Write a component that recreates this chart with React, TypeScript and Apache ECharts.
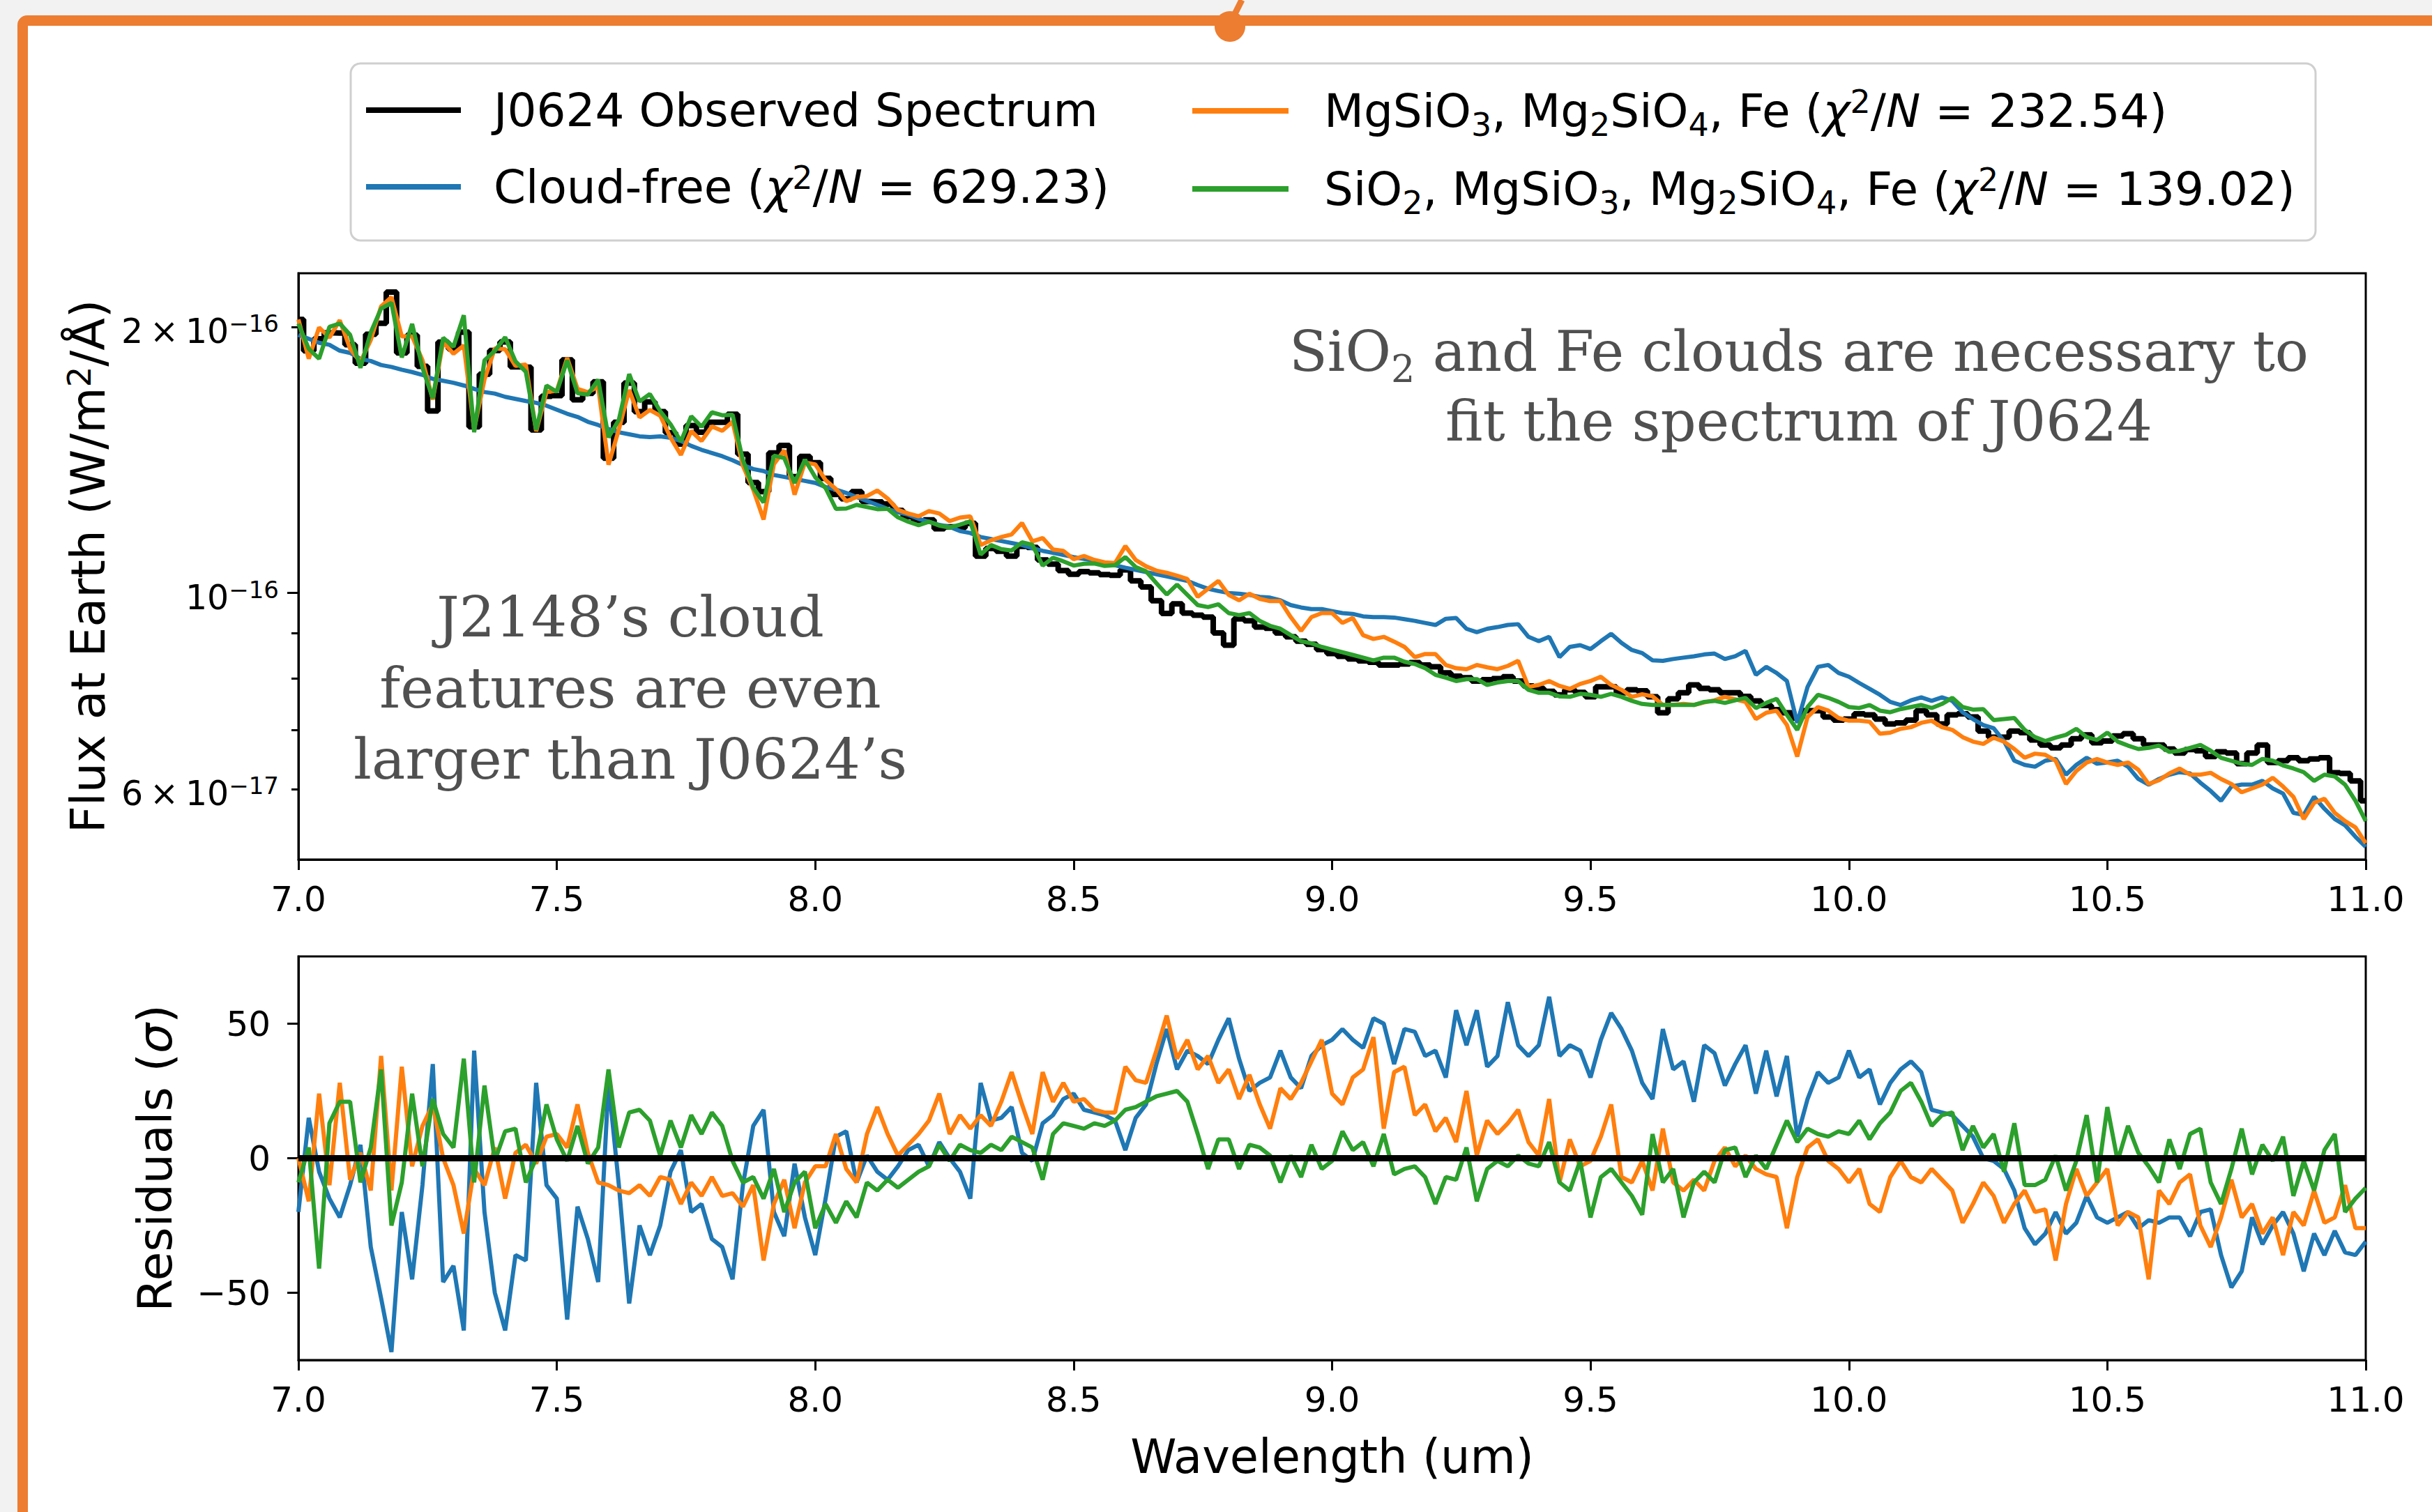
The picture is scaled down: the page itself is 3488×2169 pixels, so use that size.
import React, { useEffect, useRef } from "react";
import * as echarts from "echarts";

// ---------- data (flux in units of 1e-16 W/m^2/Å) ----------
const WAVE: number[] = Array.from({ length: 201 }, (_, i) => Math.round((7 + i * 0.02) * 100) / 100);

const OBS = [
  2.039, 1.879, 1.939, 1.969, 1.968, 1.909, 1.820, 1.962, 2.019, 2.190,
  1.869, 1.958, 1.805, 1.607, 1.922, 1.889, 1.973, 1.542, 1.768, 1.881,
  1.923, 1.802, 1.801, 1.529, 1.669, 1.672, 1.835, 1.654, 1.682, 1.733,
  1.421, 1.560, 1.728, 1.604, 1.645, 1.604, 1.518, 1.474, 1.547, 1.520,
  1.560, 1.560, 1.593, 1.436, 1.333, 1.302, 1.440, 1.469, 1.354, 1.427,
  1.404, 1.348, 1.293, 1.278, 1.302, 1.269, 1.268, 1.261, 1.240, 1.220,
  1.203, 1.210, 1.182, 1.188, 1.185, 1.199, 1.101, 1.123, 1.115, 1.101,
  1.129, 1.126, 1.090, 1.078, 1.060, 1.050, 1.057, 1.054, 1.049, 1.047,
  1.062, 1.032, 1.016, 0.980, 0.948, 0.972, 0.949, 0.944, 0.939, 0.901,
  0.873, 0.935, 0.930, 0.915, 0.912, 0.901, 0.892, 0.882, 0.875, 0.863,
  0.854, 0.848, 0.842, 0.838, 0.835, 0.829, 0.829, 0.831, 0.834, 0.829,
  0.825, 0.812, 0.805, 0.802, 0.795, 0.798, 0.800, 0.804, 0.795, 0.785,
  0.780, 0.774, 0.767, 0.777, 0.772, 0.763, 0.783, 0.783, 0.771, 0.777,
  0.775, 0.763, 0.732, 0.759, 0.771, 0.787, 0.780, 0.777, 0.771, 0.771,
  0.764, 0.755, 0.746, 0.738, 0.732, 0.722, 0.736, 0.736, 0.724, 0.718,
  0.720, 0.730, 0.728, 0.720, 0.711, 0.713, 0.718, 0.736, 0.728, 0.711,
  0.728, 0.730, 0.724, 0.698, 0.687, 0.687, 0.698, 0.695, 0.682, 0.673,
  0.668, 0.673, 0.684, 0.691, 0.677, 0.680, 0.689, 0.693, 0.684, 0.673,
  0.673, 0.666, 0.659, 0.665, 0.663, 0.653, 0.661, 0.659, 0.641, 0.659,
  0.673, 0.643, 0.646, 0.651, 0.646, 0.649, 0.651, 0.626, 0.625, 0.613,
  0.582,
];

const CLOUD_FREE = [
  1.959, 1.939, 1.919, 1.909, 1.880, 1.869, 1.840, 1.830, 1.811, 1.802,
  1.789, 1.778, 1.765, 1.747, 1.738, 1.729, 1.717, 1.702, 1.688, 1.681,
  1.667, 1.658, 1.649, 1.641, 1.629, 1.612, 1.595, 1.582, 1.562, 1.549,
  1.533, 1.520, 1.512, 1.504, 1.501, 1.504, 1.498, 1.486, 1.467, 1.452,
  1.440, 1.428, 1.413, 1.396, 1.381, 1.374, 1.360, 1.353, 1.346, 1.339,
  1.332, 1.318, 1.309, 1.298, 1.284, 1.271, 1.258, 1.245, 1.234, 1.226,
  1.213, 1.204, 1.194, 1.188, 1.175, 1.169, 1.157, 1.151, 1.145, 1.139,
  1.133, 1.124, 1.116, 1.110, 1.104, 1.098, 1.093, 1.088, 1.081, 1.075,
  1.068, 1.062, 1.056, 1.050, 1.044, 1.038, 1.032, 1.021, 1.011, 1.005,
  1.000, 0.998, 0.995, 0.990, 0.988, 0.981, 0.969, 0.963, 0.959, 0.959,
  0.954, 0.949, 0.947, 0.941, 0.939, 0.939, 0.938, 0.934, 0.930, 0.925,
  0.920, 0.935, 0.937, 0.911, 0.903, 0.911, 0.915, 0.920, 0.922, 0.892,
  0.882, 0.892, 0.846, 0.869, 0.873, 0.864, 0.882, 0.899, 0.878, 0.862,
  0.855, 0.839, 0.838, 0.842, 0.845, 0.848, 0.852, 0.854, 0.842, 0.848,
  0.860, 0.808, 0.825, 0.812, 0.795, 0.713, 0.783, 0.825, 0.829, 0.812,
  0.804, 0.791, 0.779, 0.767, 0.753, 0.747, 0.756, 0.762, 0.755, 0.762,
  0.755, 0.733, 0.720, 0.709, 0.703, 0.680, 0.646, 0.639, 0.636, 0.646,
  0.649, 0.623, 0.639, 0.651, 0.641, 0.643, 0.646, 0.636, 0.616, 0.607,
  0.616, 0.623, 0.627, 0.625, 0.610, 0.597, 0.582, 0.604, 0.607, 0.607,
  0.613, 0.601, 0.593, 0.564, 0.561, 0.588, 0.570, 0.555, 0.546, 0.530,
  0.516,
];

const MG_FE = [
  2.039, 1.841, 1.997, 1.945, 2.035, 1.890, 1.825, 1.933, 2.110, 2.161,
  1.951, 1.951, 1.834, 1.655, 1.922, 1.865, 1.906, 1.532, 1.744, 1.891,
  1.887, 1.807, 1.813, 1.524, 1.688, 1.694, 1.845, 1.702, 1.687, 1.711,
  1.397, 1.531, 1.697, 1.580, 1.611, 1.587, 1.499, 1.433, 1.525, 1.486,
  1.543, 1.526, 1.562, 1.393, 1.309, 1.211, 1.399, 1.450, 1.292, 1.405,
  1.398, 1.342, 1.311, 1.270, 1.284, 1.287, 1.306, 1.279, 1.242, 1.230,
  1.221, 1.238, 1.230, 1.206, 1.217, 1.221, 1.133, 1.147, 1.157, 1.165,
  1.200, 1.144, 1.154, 1.120, 1.116, 1.092, 1.101, 1.090, 1.083, 1.081,
  1.130, 1.090, 1.072, 1.060, 1.054, 1.046, 1.037, 0.990, 1.011, 1.032,
  0.995, 0.981, 0.998, 0.985, 0.979, 0.979, 0.939, 0.906, 0.939, 0.949,
  0.949, 0.925, 0.937, 0.896, 0.887, 0.892, 0.881, 0.869, 0.846, 0.853,
  0.853, 0.829, 0.822, 0.820, 0.829, 0.824, 0.820, 0.827, 0.838, 0.783,
  0.787, 0.795, 0.785, 0.779, 0.789, 0.795, 0.804, 0.787, 0.777, 0.763,
  0.768, 0.764, 0.747, 0.747, 0.749, 0.747, 0.752, 0.756, 0.763, 0.758,
  0.753, 0.720, 0.732, 0.736, 0.709, 0.653, 0.724, 0.743, 0.736, 0.722,
  0.717, 0.717, 0.715, 0.693, 0.695, 0.702, 0.705, 0.713, 0.717, 0.705,
  0.700, 0.687, 0.679, 0.675, 0.686, 0.679, 0.666, 0.651, 0.658, 0.656,
  0.646, 0.608, 0.629, 0.643, 0.649, 0.643, 0.639, 0.643, 0.631, 0.608,
  0.614, 0.625, 0.633, 0.623, 0.623, 0.626, 0.616, 0.608, 0.595, 0.601,
  0.607, 0.618, 0.604, 0.588, 0.555, 0.579, 0.585, 0.564, 0.552, 0.543,
  0.521,
];

const SI_MG_FE = [
  2.017, 1.889, 1.841, 2.000, 2.018, 1.959, 1.798, 1.972, 2.098, 2.130,
  1.847, 2.016, 1.798, 1.660, 1.944, 1.899, 2.062, 1.520, 1.833, 1.879,
  1.947, 1.828, 1.779, 1.529, 1.717, 1.689, 1.833, 1.683, 1.677, 1.743,
  1.500, 1.570, 1.769, 1.647, 1.679, 1.606, 1.552, 1.484, 1.585, 1.542,
  1.601, 1.589, 1.591, 1.414, 1.316, 1.266, 1.430, 1.421, 1.332, 1.415,
  1.352, 1.314, 1.245, 1.246, 1.258, 1.251, 1.244, 1.245, 1.218, 1.204,
  1.193, 1.204, 1.192, 1.186, 1.195, 1.205, 1.105, 1.133, 1.121, 1.117,
  1.141, 1.134, 1.074, 1.096, 1.086, 1.074, 1.079, 1.080, 1.073, 1.075,
  1.098, 1.070, 1.058, 1.026, 0.996, 1.022, 0.995, 0.969, 0.964, 0.971,
  0.949, 0.944, 0.949, 0.930, 0.918, 0.911, 0.896, 0.882, 0.877, 0.869,
  0.863, 0.857, 0.851, 0.845, 0.839, 0.845, 0.845, 0.836, 0.831, 0.822,
  0.808, 0.802, 0.795, 0.799, 0.799, 0.787, 0.792, 0.795, 0.795, 0.777,
  0.771, 0.771, 0.764, 0.763, 0.769, 0.767, 0.763, 0.769, 0.763, 0.755,
  0.749, 0.747, 0.747, 0.747, 0.747, 0.747, 0.753, 0.755, 0.751, 0.756,
  0.761, 0.741, 0.751, 0.759, 0.728, 0.700, 0.743, 0.767, 0.761, 0.753,
  0.743, 0.741, 0.747, 0.736, 0.733, 0.739, 0.743, 0.747, 0.741, 0.749,
  0.761, 0.743, 0.738, 0.739, 0.718, 0.720, 0.722, 0.700, 0.687, 0.680,
  0.686, 0.691, 0.702, 0.687, 0.682, 0.695, 0.679, 0.672, 0.666, 0.668,
  0.672, 0.661, 0.663, 0.668, 0.673, 0.663, 0.651, 0.646, 0.641, 0.639,
  0.649, 0.646, 0.638, 0.633, 0.627, 0.613, 0.623, 0.620, 0.607, 0.582,
  0.552,
];

// residuals (sigma)
const RES_CLOUD_FREE = [
  -20, 15, -5, -15, -22, -10, 5, -33, -52, -72,
  -20, -45, -10, 35, -46, -40, -64, 40, -20, -50,
  -64, -36, -38, 28, -10, -15, -60, -18, -30, -46,
  28, -10, -54, -25, -36, -25, -5, 3, -20, -17,
  -30, -33, -45, -10, 12, 18, -20, -29, -2, -22,
  -36, -15, 8, 10, -9, 1, -5, -8, -3, 3,
  5, -3, 6, 0, -5, -15, 28, 14, 15, 19,
  2, -1, 13, 16, 22, 24, 18, 17, 16, 14,
  3, 15, 20, 35, 48, 33, 40, 38, 35, 44,
  52, 37, 25, 28, 30, 40, 30, 26, 38, 42,
  44, 48, 44, 41, 52, 50, 35, 48, 47, 38,
  40, 30, 55, 42, 55, 34, 38, 58, 42, 38,
  42, 60, 38, 42, 40, 30, 44, 54, 48, 40,
  28, 22, 48, 33, 36, 21, 42, 39, 27, 35,
  42, 24, 40, 23, 38, 8, 22, 32, 28, 30,
  40, 30, 33, 20, 28, 33, 36, 32, 18, 17,
  16, 12, 8, 0, -1, -4, -12, -26, -32, -28,
  -20, -28, -24, -14, -22, -24, -22, -20, -26, -23,
  -24, -22, -22, -29, -20, -19, -36, -48, -42, -22,
  -32, -25, -20, -28, -42, -28, -36, -27, -35, -36,
  -31,
];

const RES_MG_FE = [
  0, -16, 24, -10, 28, -8, 2, -12, 38, -12,
  34, -3, 12, 20, 0, -10, -28, -4, -10, 4,
  -15, 2, 5, -2, 8, 9, 4, 20, 2, -9,
  -10, -12, -13, -10, -14, -7, -8, -17, -9, -14,
  -7, -14, -13, -18, -10, -38, -17, -8, -26, -9,
  -3, -3, 9, -4, -9, 9, 19, 9, 1, 5,
  9, 14, 24, 9, 16, 11, 16, 12, 21, 32,
  20, 9, 32, 21, 28, 21, 22, 18, 17, 17,
  34, 29, 28, 40, 53, 37, 44, 33, 38, 28,
  33, 22, 31, 20, 11, 26, 22, 28, 36, 44,
  24, 20, 30, 33, 45, 11, 32, 34, 16, 20,
  10, 15, 6, 25, 1, 14, 9, 13, 18, 6,
  1, 22, -9, 7, -3, -1, 8, 20, -7, -9,
  -1, -12, 11, -9, -12, -8, -12, -1, 4, -3,
  1, -4, -6, -7, -26, -7, 4, 7, -1, -4,
  -9, -4, -17, -20, -7, -1, -7, -9, -4, -8,
  -12, -24, -17, -9, -14, -24, -17, -12, -20, -19,
  -38, -17, -4, -14, -9, -4, -25, -20, -22, -45,
  -12, -17, -9, -6, -25, -33, -22, -8, -22, -17,
  -28, -22, -36, -20, -25, -12, -24, -22, -10, -26,
  -26,
];

const RES_SI_MG_FE = [
  -9, 4, -41, 13, 21, 21, -9, 4, 33, -25,
  -9, 24, -3, 22, 9, 4, 37, -9, 27, -1,
  10, 11, -9, 0, 20, 7, -1, 12, -2, 4,
  33, 4, 17, 18, 14, 1, 14, 4, 16, 9,
  17, 12, -1, -9, -7, -15, -4, -20, -9, -5,
  -26, -17, -24, -16, -22, -9, -12, -8, -11, -8,
  -5, -3, 5, -1, 5, 3, 2, 5, 3, 8,
  6, 4, -8, 9, 13, 12, 11, 13, 12, 14,
  18, 19, 21, 23, 24, 25, 21, 9, -4, 7,
  7, -4, 5, 4, 1, -9, 1, -7, 5, -4,
  -1, 10, 3, 6, -3, 9, -6, -4, -3, -7,
  -17, -7, -8, 4, -16, -4, -1, -3, 1, -2,
  -3, 6, -9, -12, -1, -22, -7, -4, -9, -14,
  -21, 9, -9, -4, -22, -9, -5, -9, 3, 4,
  -7, 1, -4, 5, 14, 6, 11, 9, 8, 10,
  9, 14, 7, 13, 17, 25, 28, 21, 12, 16,
  17, 3, 12, 4, 9, -5, 13, -10, -10, -8,
  1, -12, -1, 16, -9, 19, -1, 12, 2, -3,
  -9, 7, -4, 9, 11, -9, -17, -4, 11, -6,
  5, -1, 8, -14, -1, -12, 3, 9, -20, -15,
  -11,
];

// axis ticks / labels
const X_MIN = 7;
const X_MAX = 11;
const X_STEP = 0.5;
const FLUX_MIN = 0.4994;
const FLUX_MAX = 2.3;
const Y_TICK_LABELS = [
  { value: 0.6, base: "6\u2009×\u200910", exp: "−17" },
  { value: 1, base: "10", exp: "−16" },
  { value: 2, base: "2\u2009×\u200910", exp: "−16" },
];
const Y_MAJOR = [1];
const Y_MINOR = [0.6, 0.7, 0.8, 0.9, 2];
const RES_MIN = -75;
const RES_MAX = 75;
const RES_TICKS = [-50, 0, 50];

const NAME_OBS = "J0624 Observed Spectrum";
const NAME_CF = "Cloud-free (χ²/N = 629.23)";
const NAME_MG = "MgSiO₃, Mg₂SiO₄, Fe (χ²/N = 232.54)";
const NAME_SI = "SiO₂, MgSiO₃, Mg₂SiO₄, Fe (χ²/N = 139.02)";
const LEGEND_RICH: Record<string, string> = {
  [NAME_OBS]: "{t|J0624 Observed Spectrum}",
  [NAME_CF]: "{t|Cloud-free (}{i|χ}{sup|2}{t|/}{i|N}{t| = 629.23)}",
  [NAME_MG]: "{t|MgSiO}{sub|3}{t|, Mg}{sub|2}{t|SiO}{sub|4}{t|, Fe (}{i|χ}{sup|2}{t|/}{i|N}{t| = 232.54)}",
  [NAME_SI]: "{t|SiO}{sub|2}{t|, MgSiO}{sub|3}{t|, Mg}{sub|2}{t|SiO}{sub|4}{t|, Fe (}{i|χ}{sup|2}{t|/}{i|N}{t| = 139.02)}",
};

const C_BLUE = "#1f77b4";
const C_ORANGE = "#ff7f0e";
const C_GREEN = "#2ca02c";
const SANS = "DejaVu Sans";
const SERIF = "DejaVu Serif";

export default function App() {
  const ref = useRef<HTMLDivElement>(null);

  useEffect(() => {
    if (!ref.current) return;
    const chart = echarts.init(ref.current, undefined, { renderer: "svg" });
    const pairs = (arr: number[]) => WAVE.map((w, i) => [w, arr[i]]);

    const legendRich = {
      t: { fontSize: 66, fontFamily: SANS, color: "#000", lineHeight: 80 },
      i: { fontSize: 66, fontFamily: SANS, fontStyle: "italic", color: "#000", lineHeight: 80 },
      sup: { fontSize: 46, fontFamily: SANS, color: "#000", lineHeight: 40, padding: [0, 0, 26, 0] },
      sub: { fontSize: 46, fontFamily: SANS, color: "#000", lineHeight: 40, padding: [40, 0, 0, 0] },
    };
    const nameRich = {
      a: { fontSize: 68, fontFamily: SANS, color: "#000", lineHeight: 80 },
      i: { fontSize: 68, fontFamily: SANS, fontStyle: "italic", color: "#000", lineHeight: 80 },
      s: { fontSize: 47, fontFamily: SANS, color: "#000", lineHeight: 40, padding: [0, 0, 26, 0] },
    };

    const xAxisBase = (gridIndex: number) => ({
      type: "value",
      gridIndex,
      min: X_MIN,
      max: X_MAX,
      interval: X_STEP,
      axisLine: { show: true, onZero: false, lineStyle: { color: "#000", width: 3 } },
      axisTick: { show: true, length: 15, lineStyle: { color: "#000", width: 3 } },
      axisLabel: {
        show: true,
        margin: 32,
        fontSize: 50,
        fontFamily: SANS,
        color: "#000",
        showMinLabel: true,
        showMaxLabel: true,
        formatter: (v: number) => v.toFixed(1),
      },
      splitLine: { show: false },
    });

    const lmin = Math.log10(FLUX_MIN);
    const lmax = Math.log10(FLUX_MAX);

    const option: any = {
      animation: false,
      textStyle: { fontFamily: SANS },
      grid: [
        { left: 428, top: 392, width: 2965, height: 841, show: true, borderColor: "#000", borderWidth: 3, backgroundColor: "rgba(0,0,0,0)" },
        { left: 428, top: 1372, width: 2965, height: 579, show: true, borderColor: "#000", borderWidth: 3, backgroundColor: "rgba(0,0,0,0)" },
      ],
      xAxis: [
        xAxisBase(0),
        {
          ...xAxisBase(1),
          name: "Wavelength (um)",
          nameLocation: "middle",
          nameGap: 99,
          nameTextStyle: { fontSize: 67, fontFamily: SANS, color: "#000", lineHeight: 80 },
        },
      ],
      yAxis: [
        {
          type: "log",
          logBase: 10,
          gridIndex: 0,
          min: FLUX_MIN,
          max: FLUX_MAX,
          position: "left",
          axisLine: { show: false },
          axisTick: { show: false },
          axisLabel: { show: false },
          splitLine: { show: false },
        },
        {
          type: "value",
          gridIndex: 0,
          min: lmin,
          max: lmax,
          position: "left",
          axisLine: { show: true, onZero: false, lineStyle: { color: "#000", width: 3 } },
          axisTick: { show: true, length: 16, lineStyle: { color: "#000", width: 3 }, customValues: Y_MAJOR.map((v) => Math.log10(v)) },
          axisLabel: {
            show: true,
            margin: 28,
            customValues: Y_TICK_LABELS.map((t) => Math.log10(t.value)),
            formatter: (v: number) => {
              const t = Y_TICK_LABELS.find((o) => Math.abs(Math.log10(o.value) - v) < 1e-6);
              return t ? `{b|${t.base}}{s|${t.exp}}` : "";
            },
            rich: {
              b: { fontSize: 49, fontFamily: SANS, color: "#000", lineHeight: 60, padding: [14, 0, 0, 0] },
              s: { fontSize: 34, fontFamily: SANS, color: "#000", lineHeight: 30, padding: [0, 0, 10, 0] },
            },
          },
          splitLine: { show: false },
          name: "{a|Flux at Earth (W/m}{s|2}{a|/Å)}",
          nameLocation: "middle",
          nameRotate: 90,
          nameGap: 234,
          nameTextStyle: { fontSize: 68, fontFamily: SANS, color: "#000", rich: nameRich },
        },
        {
          type: "value",
          gridIndex: 0,
          min: lmin,
          max: lmax,
          position: "left",
          axisLine: { show: false },
          axisTick: { show: true, length: 10, lineStyle: { color: "#000", width: 3 }, customValues: Y_MINOR.map((v) => Math.log10(v)) },
          axisLabel: { show: false },
          splitLine: { show: false },
        },
        {
          type: "value",
          gridIndex: 1,
          min: RES_MIN,
          max: RES_MAX,
          position: "left",
          axisLine: { show: true, onZero: false, lineStyle: { color: "#000", width: 3 } },
          axisTick: { show: true, length: 16, lineStyle: { color: "#000", width: 3 }, customValues: RES_TICKS },
          axisLabel: {
            show: true,
            margin: 40,
            fontSize: 50,
            fontFamily: SANS,
            color: "#000",
            customValues: RES_TICKS,
            formatter: (v: number) => (v < 0 ? "−" + Math.abs(v) : String(v)),
          },
          splitLine: { show: false },
          name: "{a|Residuals (}{i|σ}{a|)}",
          nameLocation: "middle",
          nameRotate: 90,
          nameGap: 166,
          nameTextStyle: { fontSize: 67, fontFamily: SANS, color: "#000", rich: nameRich },
        },
      ],
      legend: [
        {
          data: [NAME_OBS, NAME_CF],
          left: 525,
          top: 125,
          orient: "vertical",
          icon: "rect",
          itemWidth: 136,
          itemHeight: 8,
          itemGap: 41,
          padding: 0,
          selectedMode: false,
          formatter: (n: string) => LEGEND_RICH[n] || n,
          textStyle: { fontSize: 66, fontFamily: SANS, color: "#000", padding: [0, 0, 0, 42], rich: legendRich },
        },
        {
          data: [NAME_MG, NAME_SI],
          left: 1710,
          top: 116,
          orient: "vertical",
          icon: "rect",
          itemWidth: 138,
          itemHeight: 8,
          itemGap: 26,
          padding: 0,
          selectedMode: false,
          formatter: (n: string) => LEGEND_RICH[n] || n,
          textStyle: { fontSize: 66, fontFamily: SANS, color: "#000", padding: [0, 0, 0, 46], rich: legendRich },
        },
      ],
      graphic: [
        {
          type: "rect",
          z: 0,
          shape: { x: 503, y: 91, width: 2818, height: 254, r: 14 },
          style: { fill: "#ffffff", stroke: "#cfcfcf", lineWidth: 3 },
        },
        {
          type: "line",
          z: 10,
          shape: { x1: 1768, y1: 26, x2: 1781, y2: 0 },
          style: { stroke: "#ED7D31", lineWidth: 9 },
        },
        {
          type: "circle",
          z: 10,
          shape: { cx: 1764, cy: 38, r: 22 },
          style: { fill: "#ED7D31" },
        },
        {
          type: "text",
          z: 10,
          x: 2580,
          y: 554,
          style: {
            text: "{a|SiO}{s|2}{a| and Fe clouds are necessary to}\n{a|fit the spectrum of J0624}",
            rich: {
              a: { fontSize: 80, fontFamily: SERIF, fill: "#505050", color: "#505050", lineHeight: 100 },
              s: { fontSize: 54, fontFamily: SERIF, fill: "#505050", color: "#505050", lineHeight: 50, padding: [50, 0, 0, 0] },
            },
            fontSize: 80,
            fontFamily: SERIF,
            fill: "#505050",
            align: "center",
            verticalAlign: "middle",
            textAlign: "center",
            textVerticalAlign: "middle",
          },
        },
        {
          type: "text",
          z: 10,
          x: 904,
          y: 987,
          style: {
            text: "J2148’s cloud\nfeatures are even\nlarger than J0624’s",
            fontSize: 81,
            fontFamily: SERIF,
            fill: "#505050",
            lineHeight: 102,
            align: "center",
            verticalAlign: "middle",
            textAlign: "center",
            textVerticalAlign: "middle",
          },
        },
      ],
      series: [
        {
          name: NAME_OBS, type: "line", xAxisIndex: 0, yAxisIndex: 0, data: pairs(OBS), step: "middle",
          symbol: "none", showSymbol: false, silent: true,
          lineStyle: { color: "#000", width: 8 }, itemStyle: { color: "#000" },
        },
        {
          name: NAME_CF, type: "line", xAxisIndex: 0, yAxisIndex: 0, data: pairs(CLOUD_FREE),
          symbol: "none", showSymbol: false, silent: true,
          lineStyle: { color: C_BLUE, width: 6 }, itemStyle: { color: C_BLUE },
        },
        {
          name: NAME_MG, type: "line", xAxisIndex: 0, yAxisIndex: 0, data: pairs(MG_FE),
          symbol: "none", showSymbol: false, silent: true,
          lineStyle: { color: C_ORANGE, width: 6 }, itemStyle: { color: C_ORANGE },
        },
        {
          name: NAME_SI, type: "line", xAxisIndex: 0, yAxisIndex: 0, data: pairs(SI_MG_FE),
          symbol: "none", showSymbol: false, silent: true,
          lineStyle: { color: C_GREEN, width: 6 }, itemStyle: { color: C_GREEN },
        },
        {
          name: NAME_CF, type: "line", xAxisIndex: 1, yAxisIndex: 3, data: pairs(RES_CLOUD_FREE),
          symbol: "none", showSymbol: false, silent: true,
          lineStyle: { color: C_BLUE, width: 6 }, itemStyle: { color: C_BLUE },
        },
        {
          name: NAME_MG, type: "line", xAxisIndex: 1, yAxisIndex: 3, data: pairs(RES_MG_FE),
          symbol: "none", showSymbol: false, silent: true,
          lineStyle: { color: C_ORANGE, width: 6 }, itemStyle: { color: C_ORANGE },
        },
        {
          name: NAME_SI, type: "line", xAxisIndex: 1, yAxisIndex: 3, data: pairs(RES_SI_MG_FE),
          symbol: "none", showSymbol: false, silent: true,
          lineStyle: { color: C_GREEN, width: 6 }, itemStyle: { color: C_GREEN },
          markLine: {
            silent: true,
            symbol: "none",
            z: 5,
            label: { show: false },
            lineStyle: { color: "#000", width: 9, type: "solid" },
            data: [{ yAxis: 0 }],
          },
        },
      ],
    };

    chart.setOption(option);
    return () => chart.dispose();
  }, []);

  return (
    <div style={{ position: "fixed", left: 0, top: 0, width: 3488, height: 2169, background: "#f2f2f2", overflow: "hidden" }}>
      <div
        style={{
          position: "absolute",
          left: 25,
          top: 22,
          width: 3600,
          height: 2400,
          border: "15px solid #ED7D31",
          borderRadius: 14,
          background: "#ffffff",
          boxSizing: "border-box",
        }}
      />
      <div ref={ref} style={{ position: "absolute", left: 0, top: 0, width: 3488, height: 2169 }} />
    </div>
  );
}
